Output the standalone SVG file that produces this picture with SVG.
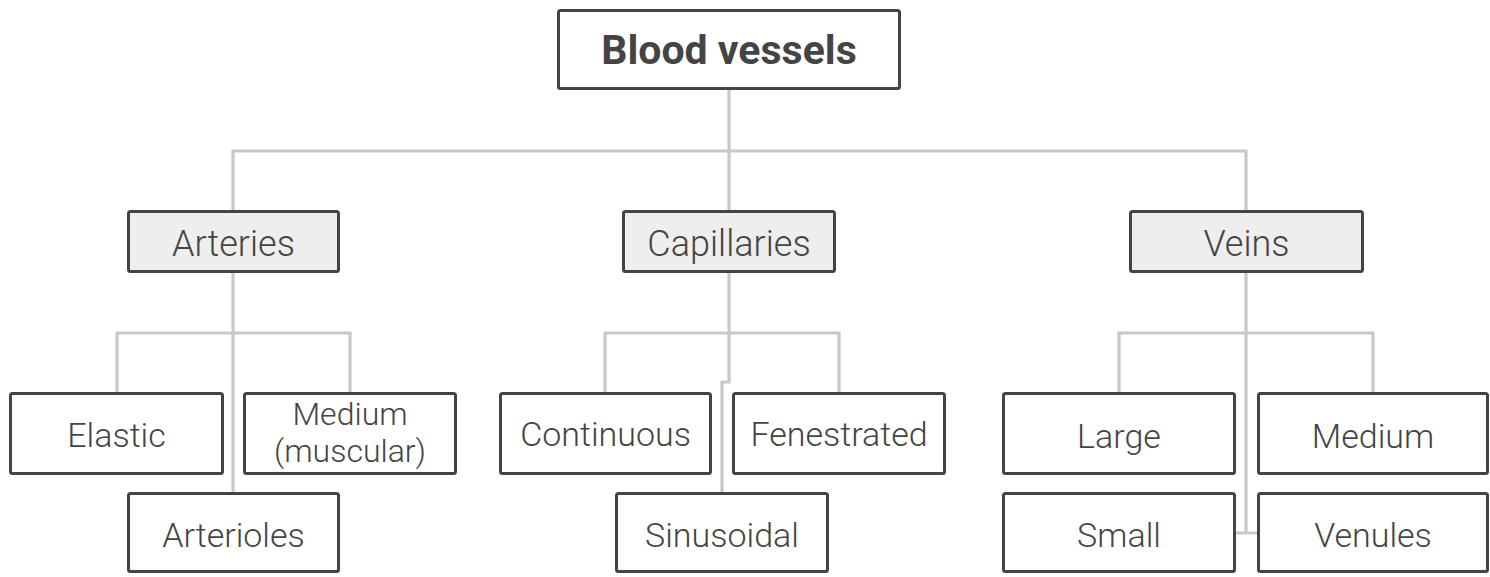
<svg xmlns="http://www.w3.org/2000/svg" width="1490" height="577" viewBox="0 0 1490 577">
<style>
.box{fill:#ffffff;stroke:#444444;stroke-width:3;}
.cat{fill:#eeeeee;stroke:#444444;stroke-width:3;}
.t{font-family:Roboto,"Liberation Sans",sans-serif;fill:#444444;text-anchor:middle;font-weight:300;}
.root{font-size:41px;font-weight:bold;}
.c{font-size:36px;}
.l{font-size:34px;}
.s{font-size:32px;}
.conn{fill:none;stroke:#c8c8c8;stroke-width:3.2;}
</style>
<rect width="1490" height="577" fill="#ffffff"/>
<g id="connectors">
<path class="conn" d="M729 90 V151 M233 210 V151 H1246 V210 M729 151 V210"/>
<path class="conn" d="M233 273 V492 M117 392 V333 H350 V392"/>
<path class="conn" d="M729 273 V382 H722 V492 M605 392 V333 H839 V392"/>
<path class="conn" d="M1246 273 V533 H1236 M1246 533 H1257 M1119 392 V333 H1373 V392"/>
</g>
<g id="blood-vessels"><rect class="box" x="558.5" y="10.5" width="341" height="78" rx="2"/><text class="t root" x="729" y="64">Blood vessels</text></g>
<g id="arteries"><rect class="cat" x="128.5" y="211.5" width="210" height="60" rx="2"/><text class="t c" x="233.5" y="256">Arteries</text></g>
<g id="capillaries"><rect class="cat" x="623.5" y="211.5" width="211" height="60" rx="2"/><text class="t c" x="729" y="256">Capillaries</text></g>
<g id="veins"><rect class="cat" x="1130.5" y="211.5" width="232" height="60" rx="2"/><text class="t c" x="1246.5" y="256">Veins</text></g>
<g id="elastic"><rect class="box" x="10.5" y="393.5" width="212" height="80" rx="2"/><text class="t l" x="116.5" y="447">Elastic</text></g>
<g id="medium-muscular"><rect class="box" x="244.5" y="393.5" width="211" height="80" rx="2"/><text class="t s" x="350" y="425">Medium</text><text class="t s" x="350" y="462">(muscular)</text></g>
<g id="arterioles"><rect class="box" x="128.5" y="493.5" width="210" height="78" rx="2"/><text class="t l" x="233.5" y="547">Arterioles</text></g>
<g id="continuous"><rect class="box" x="500.5" y="393.5" width="210" height="80" rx="2"/><text class="t l" x="605.5" y="446">Continuous</text></g>
<g id="fenestrated"><rect class="box" x="733.5" y="393.5" width="211" height="80" rx="2"/><text class="t l" x="839" y="446">Fenestrated</text></g>
<g id="sinusoidal"><rect class="box" x="616.5" y="493.5" width="211" height="78" rx="2"/><text class="t l" x="722" y="547">Sinusoidal</text></g>
<g id="large"><rect class="box" x="1003.5" y="393.5" width="231" height="80" rx="2"/><text class="t l" x="1119" y="448">Large</text></g>
<g id="medium"><rect class="box" x="1258.5" y="393.5" width="229" height="80" rx="2"/><text class="t l" x="1373" y="448">Medium</text></g>
<g id="small"><rect class="box" x="1003.5" y="493.5" width="231" height="78" rx="2"/><text class="t l" x="1119" y="547">Small</text></g>
<g id="venules"><rect class="box" x="1258.5" y="493.5" width="229" height="78" rx="2"/><text class="t l" x="1373" y="547">Venules</text></g>
</svg>
